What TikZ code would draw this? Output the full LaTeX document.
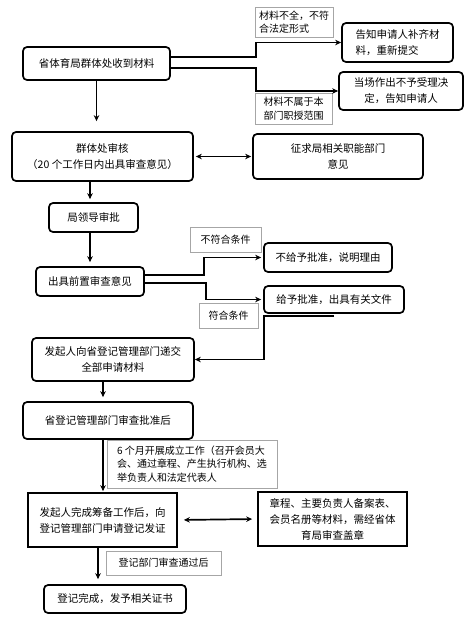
\documentclass[tikz,border=0pt]{standalone}
\usepackage{fontspec}
\newfontfamily\cjk{Noto Sans CJK SC}
\usetikzlibrary{positioning, arrows.meta, calc}

\begin{document}
\begin{tikzpicture}[
    x=1pt, y=-1pt,           % 画素と同じ尺度，y は下向き
    >={Stealth[length=6pt, width=5.5pt]},
    font=\cjk\fontsize{10.5}{16}\selectfont,
    % 手续方框（圆角）
    main_box/.style={
        draw, line width=1.7pt, rounded corners=4pt,
        inner sep=0pt, align=center
    },
    % 直角方框
    flat_box/.style={
        draw, line width=1.7pt,
        inner sep=0pt, align=center
    },
    % 条件说明（灰色细框）
    cond_label/.style={
        draw=black!35, line width=0.7pt,
        inner sep=0pt, align=left,
        font=\cjk\fontsize{10}{13.5}\selectfont
    },
    flow_arrow/.style={->, line width=1.7pt}
]
    \useasboundingbox (0,0) rectangle (471,638);

    % --- 1. 受理 ---
    \node [main_box, minimum width=147pt, minimum height=33pt] (recv) at (96.5, 63.5)
        {省体育局群体处收到材料};
    \node [main_box, minimum width=111pt, minimum height=39pt, align=left] (supply) at (397.5, 42.5)
        {告知申请人补齐材\\料，重新提交};
    \node [main_box, minimum width=124pt, minimum height=38pt] (reject) at (401, 91)
        {当场作出不予受理决\\定，告知申请人};
    \node [cond_label, minimum width=78pt, minimum height=30pt] (lab_incomplete) at (294, 22)
        {材料不全，不符\\合法定形式};
    \node [cond_label, minimum width=77pt, minimum height=31pt] (lab_scope) at (293.5, 108.5)
        {材料不属于本\\部门职授范围};

    \draw [flow_arrow] ([yshift=6.5pt]recv.east) -- ++(85,0) |- (supply.west);
    \draw [flow_arrow] ([yshift=-4.5pt]recv.east) -- ++(85,0) |- (reject.west);

    % --- 2. 审核与审批 ---
    \node [main_box, minimum width=181pt, minimum height=49pt] (review) at (102.5, 156.5)
        {群体处审核\\（20 个工作日内出具审查意见）};
    \node [main_box, minimum width=170pt, minimum height=45pt] (consult) at (338, 156.5)
        {征求局相关职能部门\\意见};
    \node [main_box, minimum width=89pt, minimum height=29pt] (leader) at (93.5, 217.5)
        {局领导审批};

    \draw [flow_arrow, shorten >=10pt] (recv.south) -- (recv.south |- review.north);
    \draw [<->, line width=1.7pt, shorten <=2pt, shorten >=1pt] (review.east) -- (consult.west);
    \draw [flow_arrow, shorten >=3pt] ([xshift=-3.5pt]leader.north |- review.south) -- ([xshift=-3.5pt]leader.north);

    % --- 3. 前置审查 ---
    \node [main_box, minimum width=108pt, minimum height=29pt] (prelim) at (90, 281.5)
        {出具前置审查意见};
    \node [main_box, minimum width=128pt, minimum height=29pt] (deny) at (328, 257.5)
        {不给予批准，说明理由};
    \node [main_box, minimum width=140pt, minimum height=27pt] (approve) at (334, 299.5)
        {给予批准，出具有关文件};
    \node [cond_label, minimum width=71pt, minimum height=25pt, align=center] (lab_fail) at (225.5, 239.5)
        {不符合条件};
    \node [cond_label, minimum width=59pt, minimum height=25pt, align=center] (lab_pass) at (228.5, 315.5)
        {符合条件};

    \draw [flow_arrow, shorten >=4pt] (prelim.north |- leader.south) -- (prelim.north);
    \draw [flow_arrow, shorten >=2pt] ([yshift=6.5pt]prelim.east) -- ++(59,0) |- (deny.west);
    \draw [flow_arrow, shorten >=2pt] ([yshift=-1.5pt]prelim.east) -- ++(61,0) |- (approve.west);

    % --- 4. 登记 ---
    \node [main_box, minimum width=162pt, minimum height=43pt] (submit) at (113, 359.5)
        {发起人向省登记管理部门递交\\全部申请材料};
    \node [main_box, minimum width=170pt, minimum height=37pt] (register) at (108, 420.5)
        {省登记管理部门审查批准后};
    \node [cond_label, minimum width=170pt, minimum height=48pt] (lab_months) at (192, 464)
        {6 个月开展成立工作（召开会员大\\会、通过章程、产生执行机构、选\\举负责人和法定代表人};

    \draw [flow_arrow] ([yshift=-2pt]approve.south) -- ([xshift=1pt, yshift=-2pt]approve.south west) |- (submit.east);
    \draw [flow_arrow, shorten >=4pt] ([xshift=-5pt]register.north |- submit.south) -- ([xshift=-5pt]register.north);

    % --- 5. 发证 ---
    \node [flat_box, minimum width=149pt, minimum height=54pt] (apply) at (102.5, 520)
        {发起人完成筹备工作后，向\\登记管理部门申请登记发证};
    \node [flat_box, minimum width=149pt, minimum height=54pt] (stamp) at (332.5, 519)
        {章程、主要负责人备案表、\\会员名册等材料，需经省体\\育局审查盖章};
    \node [cond_label, minimum width=115pt, minimum height=24pt, align=center] (lab_passed) at (163.5, 563)
        {登记部门审查通过后};
    \node [main_box, minimum width=142pt, minimum height=28pt] (finish) at (115, 599)
        {登记完成，发予相关证书};

    \draw [flow_arrow, shorten >=1pt] ([xshift=-5pt]register.south) -- ([xshift=-5pt]register.south |- apply.north);
    \draw [<->, line width=1.7pt, shorten <=6pt, shorten >=5pt] (apply.east) -- (stamp.west);
    \draw [flow_arrow, shorten >=5pt] ([xshift=-4.5pt]apply.south) -- ([xshift=-4.5pt]apply.south |- finish.north);

\end{tikzpicture}
\end{document}
